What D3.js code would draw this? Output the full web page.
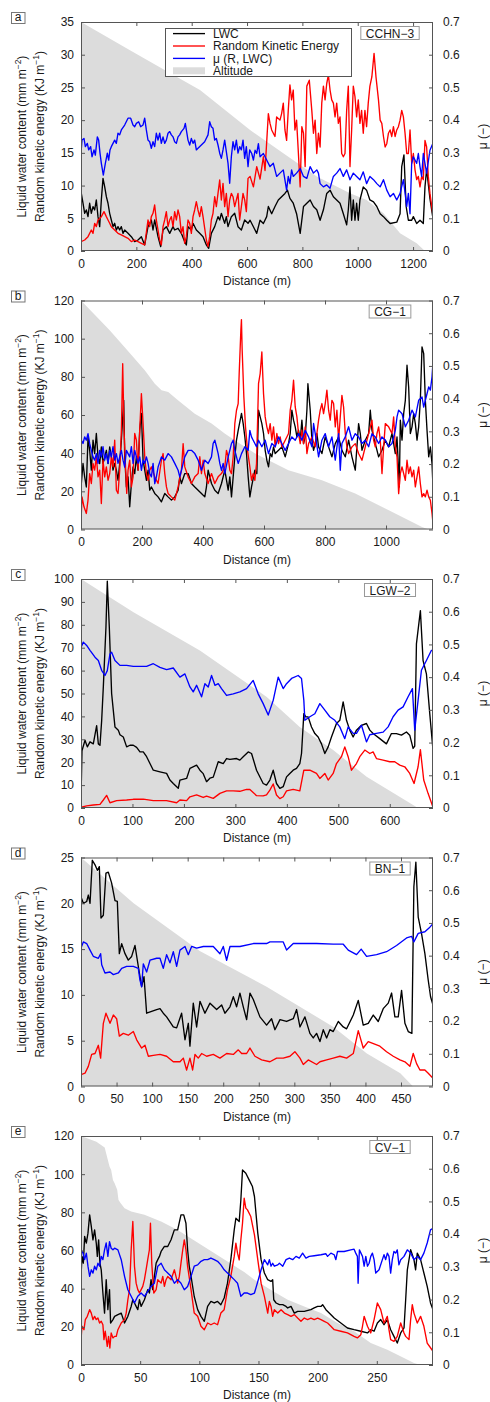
<!DOCTYPE html>
<html><head><meta charset="utf-8">
<script src="https://cdn.jsdelivr.net/npm/d3@7/dist/d3.min.js"></script>
<style>body{margin:0;background:#fff}</style>
</head><body>
<script>
// ---------- DATA (distance m, value) ----------
const panelIds = ["a","b","c","d","e"];
const siteNames = ["CCHN\u22123","CG\u22121","LGW\u22122","BN\u22121","CV\u22121"];
const xMaxes = [1272,1154,684,495,297.5];
const xTicksA = [0,200,400,600,800,1000,1200];
const xTicksB = [0,200,400,600,800,1000];
const xTicksC = [0,100,200,300,400,500,600];
const xTicksD = [0,50,100,150,200,250,300,350,400,450];
const xTicksE = [0,50,100,150,200,250];
const yMaxes = [35,120,100,25,120];
const yTicksA = [0,5,10,15,20,25,30,35];
const yTicksB = [0,20,40,60,80,100,120];
const yTicksC = [0,10,20,30,40,50,60,70,80,90,100];
const yTicksD = [0,5,10,15,20,25];
const yTicksE = [0,20,40,60,80,100,120];
const muTicks = [0,0.1,0.2,0.3,0.4,0.5,0.6,0.7];

// relative altitude (0 = lowest point, 1 = highest point)
const altA = [[0,1],[177,0.877],[310,0.785],[430,0.703],[611,0.528],[731,0.427],[852,0.325],[972,0.252],[1032,0.223],[1093,0.165],[1153,0.077],[1213,0.034],[1243,0],[1272,0]];
const altB = [[0,1],[94,0.87],[154,0.78],[209,0.695],[242,0.637],[264,0.608],[286,0.6],[318,0.564],[373,0.506],[428,0.463],[471,0.419],[504,0.39],[571,0.332],[680,0.259],[790,0.215],[899,0.157],[1009,0.084],[1118,0.011],[1140,0],[1154,0]];
const altC = [[0,1],[102,0.855],[231,0.688],[361,0.485],[425,0.354],[490,0.253],[555,0.136],[619,0.049],[655,0],[684,0]];
const altD = [[0,1],[74,0.8],[167,0.592],[261,0.436],[355,0.26],[402,0.144],[449,0.058],[467,0],[495,0]];
const altE = [[0,1],[13,0.975],[20,0.95],[22.7,0.895],[24.1,0.867],[25.5,0.852],[27,0.808],[28.4,0.794],[30.6,0.765],[31.7,0.721],[33.4,0.707],[36.8,0.685],[42.4,0.67],[53.6,0.656],[67.7,0.627],[81.7,0.59],[109.8,0.498],[137.9,0.406],[146.6,0.372],[160.6,0.328],[174.7,0.285],[188.7,0.256],[202.8,0.227],[216.8,0.183],[230.8,0.147],[244.9,0.096],[258.9,0.067],[273,0.031],[281.4,0.009],[287,0],[297.5,0]];

// Panel a
const lwcA = [[0,9.07],[7.2,7.3],[13.3,5.76],[19.3,6.27],[25.3,5.25],[31.3,7.3],[37.3,5.76],[43.4,6.78],[49.4,6.27],[55.4,7.8],[61.4,5.25],[67.5,3.72],[73.5,7.8],[79.5,11.1],[85.5,9.83],[91.6,8.3],[97.6,7.3],[103.6,5.76],[109.6,4.74],[115.7,3.72],[121.7,4.23],[127.7,3.21],[133.7,3.72],[139.7,3.21],[145.8,3.72],[151.8,2.7],[157.8,3.21],[169.9,2.7],[181.9,2.19],[194,1.43],[206,1.68],[218.1,2.19],[230.1,0.92],[242.1,3.72],[248.2,4.23],[254.2,4.74],[260.2,3.21],[266.2,4.74],[278.3,2.19],[287.9,0.66],[296.4,3.21],[308.4,3.72],[320.5,2.7],[332.5,3.72],[338.5,3.21],[350.6,3.47],[362.6,2.7],[374.7,1.43],[380.7,0.92],[386.7,3.72],[398.8,3.21],[404.8,4.23],[416.8,3.21],[428.9,2.7],[440.9,2.19],[453,0.92],[461.4,0.41],[471,2.7],[483.1,3.72],[495.1,5.25],[501.2,4.74],[507.2,5.76],[519.2,4.23],[525.2,5.25],[531.3,3.72],[543.3,5.25],[555.4,5.76],[567.4,3.72],[579.5,3.21],[591.5,4.74],[603.6,4.23],[611,4.7],[623,3.7],[635,2.7],[647,4.7],[659,4.2],[671,5.25],[677,6.8],[689,5.7],[701,6.8],[713,7.8],[725,8.3],[737,8.8],[746,9.3],[755,8.05],[767,7.3],[779,5.7],[792,2.7],[804,6.8],[816,7.3],[828,7.8],[840,6.8],[852,6.3],[864,4.7],[876,6.3],[888,8.8],[900,9.3],[912,8.3],[924,7.8],[936,7.3],[948,5.7],[960,4.0],[966,6.3],[972,9.8],[978,4.7],[984,7.8],[990,4.7],[996,7.3],[1002,4.7],[1008,7.8],[1020,9.8],[1032,9.3],[1044,7.8],[1057,7.5],[1069,6.8],[1081,5.7],[1093,5.25],[1105,4.7],[1117,4.2],[1141,4.4],[1153,5.7],[1159,12.9],[1167,14.7],[1175,6.8],[1183,4.7],[1195,4.7],[1201,5.25],[1213,4.2],[1225,4.7],[1237,4.2],[1243,9.8],[1249,12.5],[1261,8],[1271,5.2]];
const rkeA = [[0,1.43],[13.3,1.68],[25.3,2.19],[37.3,3.21],[43.4,2.7],[49.4,4.23],[55.4,3.72],[61.4,4.74],[73.5,5.25],[83.1,6.02],[91.6,5.25],[97.6,4.74],[103.6,4.23],[109.6,3.72],[121.7,3.21],[133.7,2.7],[145.8,2.45],[157.8,2.19],[169.9,1.94],[181.9,1.43],[194,1.68],[206,1.43],[218.1,1.17],[230.1,0.92],[242.1,4.74],[248.2,3.72],[254.2,5.25],[260.2,5.76],[266.2,7.03],[272.2,4.74],[278.3,3.21],[284.3,1.68],[290.3,0.92],[296.4,3.72],[302.4,4.74],[308.4,6.02],[314.4,3.72],[320.5,4.74],[326.5,5.25],[332.5,3.72],[338.5,6.02],[344.6,4.74],[350.6,6.27],[356.6,5.25],[362.6,2.7],[368.6,3.72],[374.7,1.17],[380.7,2.19],[386.7,4.74],[392.7,4.23],[398.8,2.7],[404.8,5.25],[410.8,6.27],[416.8,7.54],[422.8,6.27],[428.9,5.25],[434.9,6.78],[440.9,5.25],[453,1.68],[459,0.66],[465,2.19],[471,4.74],[477,5.76],[483.1,8.3],[489.1,6.78],[495.1,8.81],[501.2,10.85],[507.2,7.8],[513.2,10.34],[519.2,6.78],[525.2,8.81],[531.3,5.25],[537.3,7.8],[543.3,8.81],[549.3,8.3],[555.4,6.78],[567.4,8.81],[573.4,4.74],[579.5,6.78],[585.5,8.81],[591.5,7.8],[597.5,6.02],[603.6,11.1],[611,11.4],[623,9.8],[635,12.9],[647,11.0],[659,14.4],[665,12.3],[677,21.0],[683,19.5],[689,18.5],[701,17.5],[707,20.5],[719,20.0],[725,21.0],[731,22.6],[737,18.5],[743,16.9],[749,21.5],[755,25.4],[761,23.1],[767,24.6],[773,18.5],[779,20.0],[785,15.4],[792,9.8],[798,19.0],[804,18.0],[810,12.9],[816,25.2],[825,26.1],[834,21.5],[840,18.0],[846,20.0],[852,14.9],[858,18.0],[864,15.9],[870,22.6],[876,25.2],[882,23.1],[888,25.6],[894,26.9],[900,24.6],[906,23.1],[912,22.6],[918,20.5],[924,22.6],[930,19.5],[936,20.5],[942,14.9],[948,14.4],[954,14.9],[960,21.5],[966,25.2],[972,12.9],[978,18.5],[984,25.2],[990,23.6],[996,20.5],[1002,23.1],[1008,19.5],[1014,21.5],[1020,18.0],[1026,21.5],[1032,19.0],[1038,22.6],[1044,25.2],[1051,26.6],[1059,30.2],[1066,26.6],[1075,23.1],[1081,20.0],[1087,19.5],[1093,17.5],[1099,15.9],[1105,16.4],[1111,18.0],[1117,18.5],[1123,17.5],[1129,19.0],[1135,17.5],[1141,18.5],[1147,19.0],[1153,20.0],[1159,21.5],[1165,20.5],[1171,18.0],[1177,14.9],[1183,14.9],[1189,18.5],[1195,13.4],[1201,14.9],[1207,12.4],[1213,10.9],[1219,11.4],[1225,9.8],[1231,11.4],[1237,10.9],[1243,16.9],[1249,15.9],[1255,11.4],[1261,8.8],[1271,5.7]];
const muA = [[0,0.299],[3.6,0.339],[10.8,0.344],[15.7,0.319],[22.9,0.329],[27.7,0.309],[34.9,0.319],[39.8,0.288],[47,0.309],[51.8,0.293],[59,0.349],[63.8,0.339],[68.7,0.299],[73.5,0.268],[80.7,0.232],[88,0.268],[95.2,0.299],[100,0.278],[104.8,0.309],[109.6,0.319],[121.7,0.339],[127.7,0.329],[133.7,0.36],[139.7,0.355],[145.8,0.37],[157.8,0.385],[169.9,0.406],[179.5,0.406],[187.9,0.385],[194,0.38],[200,0.39],[208.4,0.395],[215.6,0.38],[224,0.385],[230.1,0.406],[236.1,0.37],[242.1,0.339],[248.2,0.334],[254.2,0.314],[260.2,0.334],[266.2,0.319],[272.2,0.36],[278.3,0.339],[284.3,0.36],[290.3,0.329],[296.4,0.349],[302.4,0.329],[308.4,0.339],[314.4,0.36],[320.5,0.365],[326.5,0.355],[332.5,0.349],[338.5,0.334],[344.6,0.329],[350.6,0.349],[356.6,0.355],[362.6,0.365],[372.2,0.375],[377,0.39],[380.7,0.37],[386.7,0.339],[392.7,0.324],[398.8,0.344],[404.8,0.329],[410.8,0.339],[416.8,0.309],[422.8,0.314],[446.9,0.334],[459,0.355],[465,0.395],[471,0.38],[477,0.375],[483.1,0.339],[489.1,0.344],[495.1,0.324],[501.2,0.299],[507.2,0.283],[513.2,0.309],[519.2,0.339],[525.2,0.304],[531.3,0.268],[537.3,0.207],[543.3,0.288],[549.3,0.334],[555.4,0.309],[561.4,0.339],[567.4,0.299],[573.4,0.319],[579.5,0.309],[585.5,0.339],[591.5,0.283],[597.5,0.319],[603.6,0.258],[609.6,0.309],[617,0.298],[623,0.278],[629,0.308],[635,0.298],[641,0.328],[647,0.288],[659,0.298],[671,0.278],[683,0.258],[695,0.268],[707,0.228],[719,0.238],[731,0.248],[743,0.186],[749,0.228],[755,0.206],[761,0.248],[767,0.228],[779,0.238],[792,0.252],[804,0.228],[816,0.222],[828,0.258],[840,0.238],[852,0.248],[858,0.238],[864,0.206],[876,0.196],[888,0.202],[900,0.192],[912,0.228],[924,0.238],[936,0.252],[948,0.228],[960,0.248],[972,0.218],[984,0.238],[996,0.228],[1008,0.218],[1020,0.242],[1032,0.206],[1044,0.228],[1057,0.218],[1069,0.206],[1081,0.196],[1093,0.218],[1105,0.186],[1117,0.166],[1129,0.176],[1141,0.156],[1153,0.176],[1165,0.218],[1177,0.136],[1183,0.176],[1189,0.114],[1195,0.268],[1201,0.288],[1213,0.268],[1219,0.298],[1225,0.258],[1231,0.228],[1237,0.298],[1249,0.238],[1261,0.308],[1271,0.328]];

// Panel b
const lwcB = [[0,4.9],[1.1,24.1],[6.6,34.6],[12,27.6],[17.5,22.3],[23,48.5],[28.4,41.5],[33.9,31.1],[39.4,46.8],[44.8,39.8],[50.3,50.3],[55.8,38.1],[61.3,34.6],[66.7,43.3],[72.2,34.6],[77.7,38.1],[83.1,41.5],[88.6,34.6],[94.1,43.3],[99.6,38.1],[105,31.1],[110.5,34.6],[116,31.1],[121.4,25.8],[126.9,34.6],[132.4,46.8],[140,67.7],[143.3,38.1],[148.8,22.3],[154.3,27.6],[159.7,11.9],[165.2,24.1],[170.7,32.8],[176.1,29.3],[181.6,38.1],[187.1,31.1],[192.5,52],[198,60.8],[203.5,36.3],[209,31.1],[214.4,25.8],[219.9,31.1],[225.4,20.6],[230.8,22.3],[241.8,18.9],[252.7,17.1],[263.7,14.5],[274.6,18.9],[285.5,17.1],[296.5,15.4],[307.4,17.1],[318.4,20.6],[323.8,27.6],[329.3,24.1],[340.2,29.3],[351.2,29.3],[362.1,24.1],[373.1,22.3],[384,20.6],[394.9,18.9],[405.9,17.1],[411.3,22.3],[416.8,31.1],[422.3,27.6],[427.8,24.1],[438.7,20.6],[449.6,18.9],[460.6,24.1],[471.5,31.1],[482.5,20.6],[487.9,27.6],[493.4,17.1],[498.9,27.6],[504.3,38.1],[509.8,46.8],[515.3,52],[526.2,60.8],[531.7,55.5],[537.2,48.5],[542.6,39.8],[548.1,27.6],[553.6,17.1],[559,22.3],[570,31.1],[576.5,29.3],[582,62.5],[587.4,59],[592.9,55.5],[598.4,50.3],[603.8,41.5],[609.3,36.3],[614.8,32.8],[620.2,39.8],[625.7,38.1],[631.2,43.3],[636.6,39.8],[647.6,41.5],[658.5,43.3],[669.5,38.1],[680.4,45],[685.9,50.3],[691.3,62.5],[696.8,57.3],[702.3,53.8],[707.8,48.5],[713.2,52],[718.7,46.8],[724.2,57.3],[729.6,45],[735.1,48.5],[740.6,62.5],[743.9,76.4],[751.5,62.5],[757,46.8],[762.5,41.5],[767.9,45],[773.4,50.3],[778.9,43.3],[789.8,39.8],[800.7,48.5],[811.7,43.3],[822.6,38.1],[833.6,45],[844.5,48.5],[855.4,41.5],[866.4,38.1],[877.3,46.8],[888.3,38.1],[899.2,31.1],[910.1,55.5],[915.6,50.3],[921.1,41.5],[932,46.8],[943,50.3],[948.4,62.5],[953.9,52],[964.8,45],[975.8,38.1],[986.7,41.5],[997.7,46.8],[1008.6,43.3],[1019.5,50.3],[1030.5,39.8],[1036,48.5],[1043.6,22.3],[1046.9,57.3],[1052.4,46.8],[1057.8,60.7],[1063.3,67.7],[1068.8,86.1],[1074.2,74.7],[1079.7,50.3],[1085.2,53.8],[1090.7,60.7],[1096.1,55.5],[1101.6,46.8],[1107,53.8],[1112.5,67.7],[1118,95.7],[1123.5,92.2],[1128.9,67.7],[1134.4,52],[1139.9,38.1],[1145.4,43.3],[1150.8,34.5],[1154,22.3]];
const rkeB = [[0,4],[3.3,17.1],[9.8,11.9],[17.5,8.4],[23,15.4],[28.4,29.3],[33.9,24.1],[39.4,34.6],[44.8,31.1],[50.3,38.1],[55.8,27.6],[61.3,31.1],[66.7,13.6],[72.2,36.3],[77.7,27.6],[83.1,32.8],[88.6,25.8],[94.1,29.3],[99.6,38.1],[105,32.8],[110.5,46.8],[116,20.6],[121.4,18.9],[126.9,31.1],[132.4,52],[136.7,86.9],[141.1,52],[145.5,34.6],[149.9,18.9],[154.3,31.1],[159.7,36.3],[165.2,22.3],[170.7,27.6],[176.1,50.3],[181.6,46.8],[187.1,31.1],[192.5,52],[198,71.2],[203.5,55.5],[209,38.1],[214.4,29.3],[219.9,25.8],[225.4,31.1],[230.8,32.8],[241.8,27.6],[252.7,24.1],[263.7,36.3],[269.1,39.8],[274.6,29.3],[280.1,22.3],[285.5,18.9],[296.5,17.1],[307.4,15.4],[318.4,22.3],[329.3,31.1],[334.8,45],[340.2,32.8],[351.2,27.6],[362.1,24.1],[373.1,27.6],[384,29.3],[389.5,38.1],[394.9,29.3],[400.4,36.3],[405.9,29.3],[416.8,24.1],[427.8,29.3],[438.7,24.1],[449.6,27.6],[460.6,29.3],[471.5,32.8],[477,41.5],[482.5,38.1],[487.9,31.1],[493.4,29.3],[498.9,38.1],[504.3,55.5],[509.8,62.5],[515.3,66],[518.6,81.7],[524,104],[526,110],[528.4,93.9],[533.9,69.5],[539.3,53.8],[545.9,41.5],[553.6,32.8],[559,25.8],[564.5,29.3],[570,25.8],[575.4,34.6],[582,76.4],[587.4,81.7],[592.9,93],[598.4,71.2],[603.8,59],[609.3,53.8],[614.8,50.3],[620.2,55.5],[625.7,46.8],[631.2,53.8],[636.6,43.3],[642.1,50.3],[647.6,45],[653,48.5],[658.5,43.3],[669.5,46.8],[680.4,50.3],[685.9,62.5],[691.3,67.7],[696.8,78.2],[702.3,64.2],[707.8,59],[713.2,50.3],[718.7,45],[724.2,52],[729.6,45],[735.1,53.8],[740.6,39.8],[746.1,45],[757,48.5],[767.9,43.3],[773.4,50.3],[778.9,57.3],[784.3,62.5],[789.8,66],[795.2,60.7],[800.7,66],[806.2,73],[811.7,62.5],[817.1,57.3],[822.6,67.7],[828.1,66],[833.6,53.8],[839,62.5],[844.5,46.8],[850,59],[855.4,70.3],[860.9,64.2],[866.4,50.3],[871.8,43.3],[877.3,39.8],[888.3,43.3],[899.2,45],[910.1,39.8],[921.1,36.3],[932,43.3],[943,50.3],[953.9,57.3],[959.3,46.8],[964.8,43.3],[970.3,50.3],[975.8,53.8],[981.2,46.8],[986.7,29.3],[992.2,43.3],[997.7,55.5],[1008.6,53.8],[1019.5,50.3],[1025,59],[1030.5,43.3],[1036,38.1],[1041.4,18.8],[1046.9,29.3],[1052.4,32.8],[1063.3,25.8],[1068.8,36.3],[1074.2,29.3],[1079.7,32.8],[1085.2,27.6],[1090.7,31.1],[1096.1,22.3],[1107,32.8],[1112.5,24.1],[1118,17.1],[1123.5,18.8],[1128.9,17.1],[1134.4,20.6],[1139.9,17.1],[1145.4,15.3],[1150.8,8.4],[1154,3.1]];
const muB = [[0,0.263],[1.1,0.273],[6.6,0.263],[12,0.283],[17.5,0.273],[23,0.293],[28.4,0.263],[33.9,0.242],[39.4,0.222],[44.8,0.212],[50.3,0.232],[55.8,0.202],[61.3,0.242],[66.7,0.222],[72.2,0.253],[77.7,0.212],[83.1,0.232],[88.6,0.202],[94.1,0.242],[99.6,0.222],[105,0.253],[110.5,0.212],[116,0.232],[121.4,0.202],[126.9,0.222],[132.4,0.242],[137.8,0.212],[143.3,0.191],[148.8,0.242],[154.3,0.232],[159.7,0.222],[165.2,0.253],[170.7,0.202],[176.1,0.242],[181.6,0.222],[187.1,0.202],[192.5,0.222],[198,0.181],[203.5,0.212],[209,0.202],[214.4,0.222],[219.9,0.202],[225.4,0.171],[230.8,0.161],[236.3,0.202],[241.8,0.14],[247.2,0.161],[252.7,0.191],[263.7,0.222],[274.6,0.212],[285.5,0.232],[296.5,0.222],[307.4,0.202],[318.4,0.181],[323.8,0.161],[329.3,0.181],[340.2,0.222],[351.2,0.242],[362.1,0.242],[373.1,0.232],[384,0.212],[394.9,0.181],[405.9,0.212],[416.8,0.202],[427.8,0.222],[433.2,0.263],[438.7,0.273],[444.2,0.253],[449.6,0.232],[455.1,0.202],[460.6,0.181],[466.1,0.202],[471.5,0.171],[482.5,0.222],[487.9,0.242],[493.4,0.263],[498.9,0.273],[504.3,0.242],[509.8,0.222],[515.3,0.202],[526.2,0.232],[537.2,0.253],[548.1,0.242],[553.6,0.303],[559,0.283],[564.5,0.273],[570,0.263],[575.4,0.253],[582,0.273],[592.9,0.253],[603.8,0.273],[614.8,0.232],[625.7,0.263],[636.6,0.253],[647.6,0.283],[658.5,0.263],[669.5,0.242],[680.4,0.263],[691.3,0.283],[702.3,0.273],[713.2,0.293],[724.2,0.273],[735.1,0.303],[746.1,0.283],[757,0.253],[762.5,0.324],[767.9,0.293],[778.9,0.222],[789.8,0.273],[800.7,0.293],[811.7,0.253],[822.6,0.283],[833.6,0.212],[844.5,0.293],[850,0.181],[855.4,0.263],[866.4,0.283],[877.3,0.314],[888.3,0.273],[899.2,0.293],[910.1,0.283],[921.1,0.263],[932,0.273],[943,0.253],[953.9,0.293],[964.8,0.283],[975.8,0.263],[986.7,0.283],[997.7,0.273],[1008.6,0.253],[1019.5,0.263],[1030.5,0.303],[1036,0.344],[1041.4,0.365],[1052.4,0.354],[1063.3,0.314],[1074.2,0.334],[1085.2,0.365],[1096.1,0.344],[1107,0.395],[1118,0.405],[1123.5,0.374],[1128.9,0.395],[1134.4,0.415],[1139.9,0.436],[1145.4,0.426],[1150.8,0.467],[1154,0.512]];

// Panel c
const lwcC = [[0,3.5],[1.9,25],[7.8,29.6],[12.3,26.7],[17.5,28.9],[23.9,28],[30.4,36],[33.7,28],[36.9,27.4],[40.1,38],[43.4,53],[48.5,79],[51.1,99],[55,79],[59.5,50],[66,35.4],[72.5,34],[75.7,32],[82.2,31],[88.7,26.7],[95.1,27.4],[101.6,27.4],[108.1,26.5],[114.6,24.5],[121,24.5],[127.5,22.4],[134,19.4],[140.5,16.5],[153.4,15.8],[166.3,15.1],[172.8,12.2],[179.3,10.7],[189,8.6],[192.2,12.2],[205.2,12.9],[211.7,17.3],[224.6,18.7],[231.1,16.5],[237.5,15],[244,11.5],[250.5,13],[257,13.5],[266.7,20.2],[276.4,19.4],[282.8,21.6],[289.3,21.2],[302.3,21.6],[308.7,20.9],[315.2,22.4],[324.9,24.5],[331.4,23.8],[341.1,16.5],[354,10.7],[360.5,10],[367,12.2],[373.5,16.5],[379.9,10.7],[386.4,8.6],[392.9,9.3],[399.4,13.6],[405.8,15.1],[412.3,16.5],[418.8,17.3],[425.2,19.4],[428.5,23.8],[433,41.2],[436.9,39.8],[441.4,39.8],[447.9,35.4],[454.4,32.5],[460.8,31],[467.3,28],[473.8,23.8],[480.3,26.7],[486.7,31],[496.4,36.9],[502.9,38.3],[509.4,46.3],[515.9,38.3],[522.3,34],[528.8,31],[535.3,34],[545,36.1],[554.7,36.9],[561.2,34],[567.6,32.5],[580.6,30.3],[593.5,28],[603.2,32.5],[612.9,32.5],[622.7,31.8],[632.4,33.2],[638.8,31.8],[645.3,26],[648.5,27],[651.8,71.7],[659.5,86.2],[664.7,64.4],[671.2,58.6],[677.7,41.2],[684,25.3]];
const rkeC = [[0,0.3],[11,0.9],[23.9,1.3],[36.9,1.6],[43.4,3.5],[49.8,5.5],[56.3,2.3],[69.3,3.2],[88.7,3.5],[101.6,3.8],[121,3.9],[140.5,3.2],[166.3,3.2],[185.8,2.3],[192.2,3.5],[205.2,3.2],[211.7,4.9],[224.6,5.7],[237.5,4.6],[244,5.2],[257,4.2],[270,6.4],[282.8,7.5],[295.8,7.5],[308.7,7.3],[321.7,8.1],[328.2,8.1],[341.1,5.4],[354,5.3],[360.5,5.7],[367,7.8],[373.5,10.5],[379.9,5.7],[386.4,4.1],[392.9,4.9],[399.4,7.5],[412.3,8.1],[425.2,7.5],[433,16.5],[444.7,16.5],[457.6,15.1],[464.1,12.9],[473.8,15.1],[480.3,12.2],[490,15.1],[496.4,19.4],[506.1,22.4],[512.6,26.7],[519.1,22.4],[525.6,16.5],[535.3,19.4],[541.7,22.4],[551.5,25.3],[561.2,23.8],[567.6,24.5],[574.1,21.6],[587.1,20.9],[600,20.2],[609.7,20.2],[619.4,18.7],[629.1,18],[638.8,15.1],[647.2,10.7],[655,18],[659.5,25.5],[666,12.2],[674.4,6.4],[684,0.3]];
const muC = [[0,0.491],[4.5,0.507],[11,0.497],[17.5,0.482],[27.2,0.461],[33.7,0.451],[40.1,0.421],[46.6,0.405],[51.1,0.42],[56.3,0.471],[59.5,0.476],[66,0.451],[75.7,0.436],[88.7,0.436],[101.6,0.433],[114.6,0.433],[127.5,0.433],[140.5,0.441],[153.4,0.43],[166.3,0.423],[179.3,0.428],[192.2,0.4],[201.9,0.41],[211.7,0.37],[218.1,0.355],[224.6,0.375],[234.3,0.34],[240.8,0.38],[247.2,0.37],[253.7,0.405],[260.2,0.375],[266.7,0.38],[273.1,0.365],[282.8,0.344],[295.8,0.349],[308.7,0.355],[321.7,0.365],[334.6,0.39],[344.3,0.349],[354,0.319],[363.8,0.284],[373.5,0.329],[383.2,0.4],[392.9,0.365],[399.4,0.38],[409.1,0.396],[422,0.405],[428.5,0.396],[433,0.329],[435,0.268],[444.7,0.279],[454.4,0.288],[464.1,0.319],[473.8,0.299],[483.5,0.279],[493.2,0.268],[502.9,0.248],[512.6,0.212],[519.1,0.248],[528.8,0.228],[535.3,0.228],[545,0.253],[554.7,0.202],[561.2,0.224],[574.1,0.228],[587.1,0.232],[596.8,0.248],[606.5,0.279],[616.2,0.299],[625.9,0.309],[635.6,0.34],[644,0.365],[648.5,0.238],[655,0.329],[661.5,0.421],[671.2,0.451],[681,0.482],[684,0.482]];

// Panel d
const lwcD = [[0,20.7],[3.3,20],[8,20.2],[10.3,20.9],[12.7,20],[15.9,24.7],[19.7,24.2],[23,23.6],[25.8,24],[28.1,18.4],[31.4,18.7],[35.1,23.3],[38.4,23.4],[43.1,22.2],[47.8,20.3],[51.1,20.2],[53.9,14.5],[57.2,15.6],[61.9,14.5],[66.5,13.8],[71.2,14.2],[75.9,15.4],[80.6,13.1],[85.3,10.9],[88.6,12],[92.3,8],[99.3,8.2],[106.4,8.4],[111.1,8.5],[115.7,8],[120.4,7.6],[129.8,6.5],[134.5,6.4],[141.5,8],[146.2,5.1],[150.9,6.9],[153.2,4.4],[157.9,9.1],[162.6,6.5],[167.3,9.3],[174.3,8],[181.4,9.1],[190.7,8.4],[197.8,8.9],[202.4,8],[209.5,8.7],[214.2,9.8],[218.8,8.7],[223.5,10.2],[228.2,8.7],[232.9,7.3],[237.6,10.2],[242.3,9.5],[251.6,7.6],[261,6.7],[268,7.4],[272.7,6.2],[279.8,7.3],[289.1,7.1],[298.5,7.4],[303.2,8.4],[307.9,6.5],[314.9,7.6],[321.9,5.8],[326.6,5.3],[331.3,5.8],[336,4.9],[340.7,6.2],[345.4,5.3],[350,6.2],[354.7,6],[361.8,7.1],[368.8,6.5],[373.5,6.3],[382.9,7.8],[389.9,9.4],[396.9,6.7],[403.9,6.9],[411,7.8],[418,7.1],[425,8.5],[432.1,9.1],[436.8,10.2],[441.4,7.6],[446.1,7.6],[450.8,10.5],[455.5,6.9],[460.2,6],[465.3,5.8],[468.1,21.8],[470.9,24.5],[474.2,18.5],[478.9,16.7],[483.6,14.5],[488.3,11.6],[491.6,9.8],[495,8.9]];
const rkeD = [[0,1.3],[5.6,1.45],[10.3,2.2],[15,3.5],[19.7,3.6],[24.4,4.5],[27.6,3.1],[31.4,6.9],[35.1,8],[40.8,6.9],[45.5,7.8],[50.1,7.4],[53.9,5.5],[59.5,5.8],[66.5,5.6],[73.6,6],[78.3,5.1],[85.3,4.2],[90,4.5],[94.7,3.3],[101.7,3.4],[111.1,3.5],[120.4,3.3],[129.8,2.7],[139.2,2.7],[143.9,3.1],[148.5,1.8],[153.2,3.1],[157,1.8],[160.3,3.5],[164.9,3.1],[169.6,3.6],[176.7,3.3],[186,3.5],[195.4,3.1],[204.8,3.6],[214.2,3.5],[221.2,4],[225.9,3.6],[232.9,3.6],[237.6,4.2],[244.6,3.3],[254,2.9],[265.7,2.7],[275.1,3.1],[284.4,3.1],[293.8,3.3],[300.8,3.8],[307.9,3.1],[312.6,2.4],[319.6,2.9],[331.3,2.4],[336,2.7],[345.4,2.9],[354.7,3.1],[364.1,3.3],[373.5,3.1],[382.9,3.6],[389.9,6.1],[396.9,4.2],[403.9,4.9],[420.3,4.4],[429.7,3.8],[439.1,3.3],[448.5,2.9],[455.5,2.7],[462.5,2.2],[467.2,3.6],[471.9,2.5],[476.6,1.8],[483.6,1.8],[488.3,1.45],[495,0.9]];
const muD = [[0,0.423],[3.3,0.442],[8,0.437],[12.7,0.417],[17.3,0.398],[24.4,0.392],[27.6,0.406],[29.1,0.372],[33.7,0.347],[40.8,0.35],[45.5,0.342],[52.5,0.347],[57.2,0.361],[64.2,0.367],[73.6,0.367],[80.6,0.361],[82.9,0.325],[85.3,0.305],[87.6,0.375],[92.3,0.35],[97,0.386],[106.4,0.392],[111.1,0.392],[115.7,0.361],[120.4,0.403],[125.1,0.378],[129.8,0.412],[134.5,0.367],[139.2,0.417],[146.2,0.428],[150.9,0.403],[155.6,0.428],[162.6,0.423],[172,0.428],[186,0.428],[195.4,0.406],[200.1,0.428],[204.8,0.386],[209.5,0.428],[223.5,0.428],[242.3,0.437],[261,0.437],[265.7,0.442],[284.4,0.442],[289.1,0.417],[298.5,0.437],[331.3,0.437],[354.7,0.435],[368.8,0.435],[375.8,0.417],[387.5,0.403],[394,0.42],[401.6,0.398],[415.7,0.403],[429.7,0.412],[443.8,0.431],[457.8,0.454],[464.9,0.459],[468.1,0.442],[474.2,0.468],[483.6,0.473],[490.6,0.487],[495,0.498]];

// Panel e
const lwcE = [[0,46.4],[0.84,56.9],[1.96,53.4],[3.08,67.4],[4.49,63.9],[5.89,69.1],[7.3,78.7],[8.7,72.6],[10.1,65.6],[11.5,70.8],[12.9,63.9],[13.8,56.9],[14.9,65.6],[16,53.4],[17.1,49.9],[18.5,37.7],[19.9,27.2],[21.3,44.7],[22.7,29],[24.1,39.5],[25,22],[27,23.8],[28.4,25.5],[31.2,26.4],[34,27.2],[36.8,22],[39.6,25.5],[42.4,30.7],[43.8,34.2],[45.2,32.5],[46.6,30.7],[48,29],[49.4,34.2],[50.8,30.7],[53.6,34.2],[56.4,39.5],[57.8,37.7],[59.2,44.7],[60.6,39.5],[62,46.4],[63.5,53.4],[64.9,55.2],[66.3,56.9],[67.7,59.5],[70.5,62.1],[73.3,62.1],[76.1,65.6],[78.9,70.8],[81.7,70.8],[84.5,78.7],[86.8,78.7],[88.7,74.3],[90.1,60.4],[91.5,51.7],[93,46.4],[95.7,35.9],[98.6,29],[101.4,25.5],[104.2,22.9],[107,30.7],[109.8,33.3],[112.6,32.5],[115.4,33.3],[118.2,31.6],[121,35.1],[123.8,42.9],[126.6,55.1],[129.5,70.8],[130.9,76.9],[133.7,75.2],[135.1,86.5],[136.5,102.2],[139.3,100.5],[142.1,97],[144.9,93.5],[146.6,88.3],[149.4,69.1],[152.2,55.2],[155,48.2],[157.8,44.7],[160.6,43.8],[162,44.7],[162.9,34.2],[164.9,32.5],[167.7,31.6],[170.5,31.6],[173.3,30.7],[174.7,29.9],[177.5,30.7],[180.3,27.2],[183.1,28.1],[188.7,28.1],[194.3,29],[197.1,29.9],[200,30.7],[202.8,30.7],[204.2,31.6],[207,29],[209.8,27.2],[214,24.6],[219.6,22],[225.2,19.4],[230.8,18.5],[236.5,17.7],[242.1,16.8],[244.9,18.5],[247.7,17.7],[250.5,22],[253.3,23.8],[256.1,21.1],[258.9,23.8],[261.7,18.5],[264.5,15],[267.3,11.5],[270.2,16.8],[273,19.4],[274.4,34.2],[275.8,49.9],[278.6,60.4],[281.4,55.2],[282.8,49.9],[284.2,58.6],[287,55.2],[289.8,48.2],[292.6,41.2],[295.4,32.5],[297.5,29]];
const rkeE = [[0,13.3],[0.84,20.3],[2.52,18.5],[3.65,23.8],[5.33,25.5],[7.3,29],[8.7,27.2],[10.1,23.8],[11.5,25.5],[12.9,23.8],[14.3,24.6],[15.7,22],[17.1,22.9],[18.5,21.1],[19.4,13.3],[20.5,17.7],[22.2,9.8],[23.3,15],[24.4,8.9],[25.5,16.8],[27,14.2],[28.4,15],[29.8,15],[31.2,18.5],[34,22],[36.8,23.8],[38.2,27.2],[39.6,34.2],[41,39.5],[42.4,60.4],[43.8,75.2],[45.2,51.7],[46.6,42.9],[48,39.5],[49.4,37.7],[50.8,39.5],[52.2,41.2],[53.6,44.7],[55,49.9],[56.4,55.2],[57.8,60.4],[58.7,74.3],[59.8,53.4],[61.5,37.7],[63.5,39.5],[64.9,44.7],[67.7,42.9],[69.1,46.4],[70.5,41.2],[71.9,44.7],[73.3,46.4],[76.1,44.7],[78.9,49.9],[81.7,42.9],[83.1,46.4],[84.5,53.4],[86,60.4],[87.3,65.6],[88.7,60.4],[90.1,51.7],[93,39.5],[95.7,27.2],[98.6,25.5],[101.4,20.3],[104.2,18.5],[107,22],[109.8,21.1],[112.6,22],[115.4,21.1],[118.2,27.2],[121,29],[123.8,39.5],[126.6,46.4],[129.5,56.9],[130.9,63.9],[132.3,58.6],[133.7,55.1],[135.1,65.6],[136.5,74.3],[137.9,87.4],[139.3,82.2],[140.7,81.3],[143.5,77.8],[146.6,68.2],[149.4,55.2],[152.2,42.9],[155,36],[157.8,27.2],[159.2,33.3],[160.6,30.7],[162,25.5],[163.4,29],[166.3,27.2],[169.1,29],[171.9,27.2],[174.7,26.4],[177.5,25.5],[180.3,26.4],[183.1,24.6],[185.9,22.9],[188.7,24.6],[191.5,23.8],[194.3,24.6],[197.1,23.8],[200,24.6],[202.8,23.8],[205.6,22.9],[208.4,22],[211.2,20.3],[214,18.5],[219.6,17.7],[225.2,16.8],[230.8,15],[233.6,14.2],[236.5,15.9],[237.9,20.3],[239.3,25.5],[242.1,20.3],[244.9,16.8],[247.7,23.8],[250.5,32.5],[253.3,29],[256.1,22],[258.9,25.5],[260.3,18.5],[261.7,13.3],[264.5,12.4],[267.3,15],[270.2,22],[273,16.8],[274.4,15],[277.2,13.3],[278.6,23.8],[280,31.6],[281.4,27.2],[284.2,22],[287,25.5],[289.8,20.3],[292.6,11.5],[297.5,7.2]];
const muE = [[0,0.352],[1.68,0.342],[3.08,0.322],[4.49,0.342],[5.89,0.302],[7.3,0.271],[8.7,0.291],[10.1,0.281],[11.5,0.302],[12.9,0.291],[14.3,0.311],[15.7,0.302],[17.1,0.332],[18.5,0.322],[19.9,0.352],[21.3,0.373],[22.7,0.332],[24.1,0.377],[25.5,0.357],[27,0.352],[28.4,0.357],[31.2,0.352],[34,0.322],[36.8,0.271],[39.6,0.23],[42.4,0.21],[45.2,0.19],[48,0.21],[50.8,0.22],[53.6,0.21],[56.4,0.225],[59.2,0.24],[62,0.25],[64.9,0.302],[67.7,0.311],[70.5,0.291],[73.3,0.281],[76.1,0.271],[78.9,0.25],[81.7,0.261],[84.5,0.25],[87.3,0.23],[90.1,0.24],[93,0.271],[95.7,0.302],[98.6,0.306],[101.4,0.317],[104.2,0.322],[107,0.322],[109.8,0.327],[112.6,0.322],[115.4,0.317],[118.2,0.306],[121,0.291],[123.8,0.281],[126.6,0.271],[129.5,0.261],[132.3,0.25],[135.1,0.21],[137.9,0.22],[140.7,0.22],[143.5,0.215],[146.6,0.22],[149.4,0.255],[152.2,0.291],[155,0.322],[157.8,0.306],[159.2,0.322],[160.6,0.302],[162,0.311],[163.4,0.302],[166.3,0.306],[167.7,0.311],[170.5,0.302],[173.3,0.322],[176.1,0.327],[178.9,0.322],[181.7,0.332],[184.5,0.327],[187.3,0.342],[190.1,0.327],[192.9,0.332],[197.1,0.334],[202.8,0.337],[207,0.34],[208.4,0.332],[211.2,0.342],[214,0.337],[215.4,0.322],[216.8,0.347],[222.4,0.347],[228,0.352],[230.8,0.354],[232.2,0.342],[233.6,0.332],[234.2,0.25],[235.3,0.352],[237.9,0.332],[239.3,0.302],[240.7,0.332],[242.1,0.302],[243.5,0.311],[244.9,0.332],[246.3,0.342],[247.7,0.322],[249.1,0.281],[251.9,0.291],[254.7,0.322],[256.1,0.337],[257.5,0.322],[258.9,0.342],[260.3,0.332],[261.7,0.281],[263.1,0.322],[264.5,0.347],[265.9,0.342],[267.3,0.352],[268.7,0.306],[270.2,0.322],[273,0.332],[275.8,0.352],[278.6,0.342],[281.4,0.322],[284.2,0.332],[287,0.322],[289.8,0.342],[292.6,0.373],[295.4,0.413],[297.5,0.418]];

const legendLabels = ["LWC","Random Kinetic Energy","\u03bc (R, LWC)","Altitude"];
// ---------- END DATA ----------

const panels = [
  {xt:xTicksA, yt:yTicksA, alt:altA, lwc:lwcA, rke:rkeA, mu:muA},
  {xt:xTicksB, yt:yTicksB, alt:altB, lwc:lwcB, rke:rkeB, mu:muB},
  {xt:xTicksC, yt:yTicksC, alt:altC, lwc:lwcC, rke:rkeC, mu:muC},
  {xt:xTicksD, yt:yTicksD, alt:altD, lwc:lwcD, rke:rkeD, mu:muD},
  {xt:xTicksE, yt:yTicksE, alt:altE, lwc:lwcE, rke:rkeE, mu:muE}
];

const FONT = "'Liberation Sans', Arial, Helvetica, sans-serif";
const W = 490, H = 1402;
const L = 81, R = 433, PH = 229, TOP0 = 22, STEP = 278.5;
const COL = {lwc:"#000000", rke:"#ff0000", mu:"#0000ff", alt:"#dcdcdc", frame:"#555555", text:"#1a1a1a"};

const svg = d3.select("body").append("svg").attr("width", W).attr("height", H)
  .style("font-family", FONT).style("display","block");
svg.append("rect").attr("width", W).attr("height", H).attr("fill", "#fff");

panels.forEach((p, i) => {
  const T = TOP0 + i * STEP, B = T + PH;
  const x = d3.scaleLinear().domain([0, xMaxes[i]]).range([L, R]);
  const y = d3.scaleLinear().domain([0, yMaxes[i]]).range([B, T]);
  const yr = d3.scaleLinear().domain([0, 0.7]).range([B, T]);
  const ya = d3.scaleLinear().domain([0, 1]).range([B, T]);
  const g = svg.append("g");

  const clipId = "clip" + i;
  svg.append("clipPath").attr("id", clipId).append("rect")
    .attr("x", L).attr("y", T).attr("width", R - L).attr("height", PH);

  const plot = g.append("g").attr("clip-path", `url(#${clipId})`);
  plot.append("path").datum(p.alt)
    .attr("d", d3.area().x(d => x(d[0])).y0(B).y1(d => ya(d[1])))
    .attr("fill", COL.alt);

  const ln = d3.line().x(d => x(d[0])).y(d => y(d[1]));
  const lnR = d3.line().x(d => x(d[0])).y(d => yr(d[1]));
  [[p.lwc, ln, COL.lwc], [p.rke, ln, COL.rke], [p.mu, lnR, COL.mu]].forEach(([data, gen, c]) => {
    plot.append("path").datum(data).attr("d", gen).attr("fill","none")
      .attr("stroke", c).attr("stroke-width", 1.35).attr("stroke-linejoin","round");
  });

  const fmtInt = d3.format("d");
  const styleAxis = sel => {
    sel.select(".domain").remove();
    sel.selectAll("line").attr("stroke", COL.frame);
    sel.selectAll("text").attr("fill", COL.text).style("font-size","12px").style("font-family", FONT);
  };
  g.append("g").attr("transform", `translate(0,${B})`)
    .call(d3.axisBottom(x).tickValues(p.xt).tickFormat(fmtInt).tickSizeInner(-4).tickSizeOuter(0).tickPadding(8))
    .call(styleAxis);
  g.append("g").attr("transform", `translate(0,${T})`)
    .call(d3.axisTop(x).tickValues(p.xt).tickFormat("").tickSizeInner(-4).tickSizeOuter(0))
    .call(styleAxis);
  g.append("g").attr("transform", `translate(${L},0)`)
    .call(d3.axisLeft(y).tickValues(p.yt).tickFormat(fmtInt).tickSizeInner(-4).tickSizeOuter(0).tickPadding(7))
    .call(styleAxis);
  g.append("g").attr("transform", `translate(${R},0)`)
    .call(d3.axisRight(yr).tickValues(muTicks).tickFormat(d3.format(".1~f")).tickSizeInner(-4).tickSizeOuter(0).tickPadding(10))
    .call(styleAxis);

  g.append("rect").attr("x", L + 0.5).attr("y", T + 0.5).attr("width", R - L - 1).attr("height", PH - 1)
    .attr("fill", "none").attr("stroke", COL.frame).attr("stroke-width", 1);

  g.append("text").attr("x", (L + R) / 2).attr("y", B + 34).attr("text-anchor","middle")
    .attr("fill", COL.text).style("font-size","12px").text("Distance (m)");

  const cy = (T + B) / 2;
  const t1 = g.append("text").attr("transform", `translate(26,${cy}) rotate(-90)`).attr("text-anchor","middle")
    .attr("fill", COL.text).style("font-size","12px");
  t1.append("tspan").text("Liquid water content (mm m");
  t1.append("tspan").attr("dy", -5).style("font-size","8.5px").text("\u22122");
  t1.append("tspan").attr("dy", 5).text(")");
  const t2 = g.append("text").attr("transform", `translate(44,${cy}) rotate(-90)`).attr("text-anchor","middle")
    .attr("fill", COL.text).style("font-size","12px");
  t2.append("tspan").text("Random kinetic energy (KJ m");
  t2.append("tspan").attr("dy", -5).style("font-size","8.5px").text("\u22121");
  t2.append("tspan").attr("dy", 5).text(")");
  g.append("text").attr("transform", `translate(487,${cy}) rotate(-90)`).attr("text-anchor","middle")
    .attr("fill", COL.text).style("font-size","12px").text("\u03bc (\u2212)");

  g.append("rect").attr("x", 11.5).attr("y", T - 9.5).attr("width", 13.5).attr("height", 11)
    .attr("fill","#fff").attr("stroke","#777").attr("stroke-width",1);
  g.append("text").attr("x", 18.2).attr("y", T - 0.8).attr("text-anchor","middle")
    .attr("fill", COL.text).style("font-size","12px").text(panelIds[i]);

  const nameG = g.append("g");
  const nameRect = nameG.append("rect").attr("fill","#fff").attr("stroke","#999").attr("stroke-width",1);
  const nameText = nameG.append("text").attr("x", 390).attr("y", T + 15.5).attr("text-anchor","middle")
    .attr("fill", COL.text).style("font-size","12px").text(siteNames[i]);
  const tw = nameText.node().getComputedTextLength();
  nameRect.attr("x", 390 - tw / 2 - 5).attr("y", T + 4.5).attr("width", tw + 10).attr("height", 13);

  if (i === 0) {
    const lg = g.append("g");
    lg.append("rect").attr("x", 165.5).attr("y", 28.5).attr("width", 186).attr("height", 48)
      .attr("fill","#fff").attr("stroke", COL.frame).attr("stroke-width",1);
    const cols = [COL.lwc, COL.rke, COL.mu];
    legendLabels.forEach((lab, k) => {
      const yy = 33.6 + k * 12.4;
      if (k < 3) {
        lg.append("line").attr("x1",173).attr("x2",205).attr("y1",yy).attr("y2",yy)
          .attr("stroke", cols[k]).attr("stroke-width",1.35);
      } else {
        lg.append("rect").attr("x",173).attr("y",yy-3.5).attr("width",32).attr("height",7).attr("fill",COL.alt);
      }
      lg.append("text").attr("x",213).attr("y",yy+4.2).attr("fill",COL.text).style("font-size","12px").text(lab);
    });
  }
});
</script>
</body></html>
